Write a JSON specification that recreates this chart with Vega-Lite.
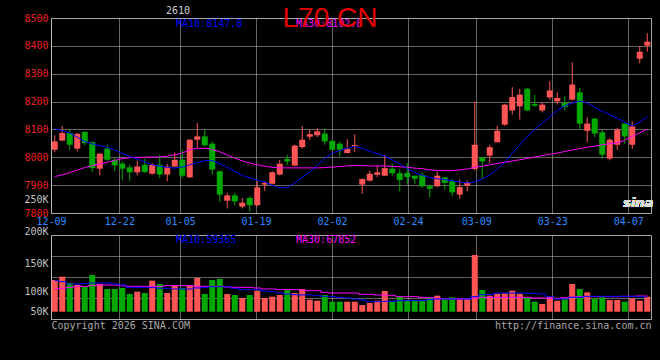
{
  "$schema": "https://vega.github.io/schema/vega-lite/v6.json",
  "background": "#000000",
  "padding": {"left": 23, "top": 4, "right": 10, "bottom": 29},
  "title": {"text": "L70 CN", "font": "Liberation Sans", "fontSize": 28, "fontWeight": "normal", "color": "#e00000", "anchor": "middle", "frame": "group", "dy": 31, "dx": -21},
  "bounds": "flush",
  "spacing": 22,
  "resolve": {"scale": {"x": "independent", "y": "independent"}},
  "config": {
    "font": "DejaVu Sans Mono",
    "view": {"stroke": "#a8a8a8", "strokeWidth": 1},
    "axis": {"labelFont": "DejaVu Sans Mono", "labelFontSize": 10, "titleFont": "DejaVu Sans Mono", "titleFontSize": 10, "titleFontWeight": "normal", "ticks": false, "domain": false, "gridColor": "#c8c8c8", "gridDash": [1, 1], "gridWidth": 1, "labelOverlap": false}
  },
  "datasets": {
    "k": [
      {"d":"2025-12-09","o":8027,"h":8079,"l":8018,"c":8057,"v":119700,"m10":8103,"m30":7931,"vm10":118500,"vm30":103600},
      {"d":"2025-12-10","o":8060,"h":8113,"l":8058,"c":8087,"v":125600,"m10":8096,"m30":7937,"vm10":116700,"vm30":104800},
      {"d":"2025-12-11","o":8087,"h":8099,"l":8027,"c":8045,"v":114300,"m10":8087,"m30":7945,"vm10":112500,"vm30":106500},
      {"d":"2025-12-12","o":8031,"h":8087,"l":8021,"c":8084,"v":110700,"m10":8072,"m30":7954,"vm10":112500,"vm30":108300},
      {"d":"2025-12-15","o":8091,"h":8093,"l":8043,"c":8051,"v":107700,"m10":8057,"m30":7963,"vm10":113100,"vm30":108300},
      {"d":"2025-12-16","o":8054,"h":8057,"l":7947,"c":7961,"v":128600,"m10":8048,"m30":7970,"vm10":114300,"vm30":109500},
      {"d":"2025-12-17","o":7959,"h":8015,"l":7935,"c":8013,"v":112500,"m10":8042,"m30":7976,"vm10":114300,"vm30":110700},
      {"d":"2025-12-18","o":8031,"h":8045,"l":7985,"c":7991,"v":103600,"m10":8036,"m30":7982,"vm10":114300,"vm30":110700},
      {"d":"2025-12-19","o":7991,"h":7997,"l":7950,"c":7971,"v":103600,"m10":8026,"m30":7989,"vm10":112500,"vm30":110700},
      {"d":"2025-12-22","o":7977,"h":7985,"l":7917,"c":7959,"v":105400,"m10":8014,"m30":7995,"vm10":110700,"vm30":109500},
      {"d":"2025-12-23","o":7964,"h":7973,"l":7914,"c":7946,"v":94600,"m10":8003,"m30":7999,"vm10":106500,"vm30":108300},
      {"d":"2025-12-24","o":7946,"h":7988,"l":7935,"c":7967,"v":98800,"m10":7994,"m30":8000,"vm10":106500,"vm30":108300},
      {"d":"2025-12-25","o":7973,"h":7994,"l":7944,"c":7947,"v":96400,"m10":7983,"m30":8000,"vm10":106500,"vm30":108300},
      {"d":"2025-12-26","o":7941,"h":7979,"l":7938,"c":7973,"v":118500,"m10":7973,"m30":8001,"vm10":106000,"vm30":108300},
      {"d":"2025-12-29","o":7973,"h":8009,"l":7926,"c":7938,"v":112500,"m10":7968,"m30":8001,"vm10":104800,"vm30":108300},
      {"d":"2025-12-30","o":7938,"h":7976,"l":7914,"c":7967,"v":96400,"m10":7964,"m30":8004,"vm10":104800,"vm30":109500},
      {"d":"2025-12-31","o":7967,"h":8018,"l":7965,"c":7991,"v":110700,"m10":7961,"m30":8009,"vm10":103600,"vm30":109500},
      {"d":"2026-01-05","o":7991,"h":8027,"l":7925,"c":7934,"v":105400,"m10":7965,"m30":8015,"vm10":103600,"vm30":109500},
      {"d":"2026-01-06","o":7928,"h":8065,"l":7925,"c":8063,"v":109500,"m10":7973,"m30":8027,"vm10":103600,"vm30":109500},
      {"d":"2026-01-07","o":8063,"h":8123,"l":8033,"c":8075,"v":123200,"m10":7981,"m30":8032,"vm10":105400,"vm30":108300},
      {"d":"2026-01-08","o":8075,"h":8099,"l":8040,"c":8043,"v":94600,"m10":7988,"m30":8033,"vm10":106500,"vm30":108300},
      {"d":"2026-01-09","o":8049,"h":8057,"l":7938,"c":7956,"v":119700,"m10":7988,"m30":8028,"vm10":107700,"vm30":108300},
      {"d":"2026-01-12","o":7950,"h":7952,"l":7839,"c":7866,"v":121400,"m10":7978,"m30":8020,"vm10":107700,"vm30":108300},
      {"d":"2026-01-13","o":7844,"h":7872,"l":7816,"c":7863,"v":94600,"m10":7964,"m30":8008,"vm10":107700,"vm30":107100},
      {"d":"2026-01-14","o":7863,"h":7872,"l":7828,"c":7842,"v":92900,"m10":7949,"m30":7997,"vm10":104800,"vm30":106500},
      {"d":"2026-01-15","o":7823,"h":7854,"l":7816,"c":7837,"v":87500,"m10":7935,"m30":7987,"vm10":102400,"vm30":106500},
      {"d":"2026-01-16","o":7854,"h":7860,"l":7806,"c":7828,"v":92900,"m10":7926,"m30":7979,"vm10":102400,"vm30":106500},
      {"d":"2026-01-19","o":7828,"h":7914,"l":7824,"c":7892,"v":100600,"m10":7918,"m30":7973,"vm10":102400,"vm30":105400},
      {"d":"2026-01-20","o":7902,"h":7914,"l":7880,"c":7908,"v":87500,"m10":7911,"m30":7968,"vm10":100000,"vm30":103600},
      {"d":"2026-01-21","o":7905,"h":7950,"l":7902,"c":7946,"v":89900,"m10":7899,"m30":7964,"vm10":98800,"vm30":103600},
      {"d":"2026-01-22","o":7938,"h":7991,"l":7935,"c":7977,"v":92900,"m10":7890,"m30":7962,"vm10":96400,"vm30":102400},
      {"d":"2026-01-23","o":7994,"h":8009,"l":7973,"c":7985,"v":101800,"m10":7892,"m30":7962,"vm10":94600,"vm30":102400},
      {"d":"2026-01-26","o":7970,"h":8045,"l":7968,"c":8042,"v":96400,"m10":7908,"m30":7962,"vm10":93500,"vm30":102400},
      {"d":"2026-01-27","o":8037,"h":8113,"l":8031,"c":8063,"v":103600,"m10":7928,"m30":7962,"vm10":92900,"vm30":101800},
      {"d":"2026-01-28","o":8074,"h":8099,"l":8063,"c":8083,"v":84500,"m10":7947,"m30":7962,"vm10":92900,"vm30":100600},
      {"d":"2026-01-29","o":8079,"h":8105,"l":8072,"c":8093,"v":82700,"m10":7971,"m30":7962,"vm10":91700,"vm30":100600},
      {"d":"2026-01-30","o":8085,"h":8103,"l":8045,"c":8057,"v":92900,"m10":7995,"m30":7963,"vm10":90500,"vm30":97600},
      {"d":"2026-02-02","o":8059,"h":8062,"l":8025,"c":8027,"v":80900,"m10":8015,"m30":7965,"vm10":89900,"vm30":96400},
      {"d":"2026-02-03","o":8049,"h":8057,"l":8003,"c":8027,"v":80900,"m10":8024,"m30":7967,"vm10":88700,"vm30":96400},
      {"d":"2026-02-04","o":8015,"h":8065,"l":8015,"c":8031,"v":80900,"m10":8032,"m30":7969,"vm10":87500,"vm30":96400},
      {"d":"2026-02-05","o":8040,"h":8083,"l":8018,"c":8044,"v":80900,"m10":8039,"m30":7971,"vm10":85700,"vm30":96400},
      {"d":"2026-02-06","o":7902,"h":7925,"l":7869,"c":7922,"v":75000,"m10":8032,"m30":7970,"vm10":83900,"vm30":94100},
      {"d":"2026-02-09","o":7916,"h":7952,"l":7913,"c":7941,"v":78600,"m10":8022,"m30":7969,"vm10":80900,"vm30":94100},
      {"d":"2026-02-10","o":7937,"h":7970,"l":7929,"c":7946,"v":82700,"m10":8013,"m30":7969,"vm10":80900,"vm30":92900},
      {"d":"2026-02-11","o":7934,"h":8009,"l":7934,"c":7961,"v":100000,"m10":8004,"m30":7969,"vm10":81600,"vm30":92900},
      {"d":"2026-02-12","o":7959,"h":7977,"l":7934,"c":7943,"v":80900,"m10":7991,"m30":7967,"vm10":81600,"vm30":91700},
      {"d":"2026-02-13","o":7943,"h":7958,"l":7878,"c":7919,"v":89900,"m10":7977,"m30":7966,"vm10":82700,"vm30":89900},
      {"d":"2026-02-24","o":7943,"h":7979,"l":7902,"c":7929,"v":83900,"m10":7959,"m30":7964,"vm10":82700,"vm30":89900},
      {"d":"2026-02-25","o":7934,"h":7934,"l":7905,"c":7923,"v":83900,"m10":7946,"m30":7961,"vm10":82700,"vm30":89900},
      {"d":"2026-02-26","o":7937,"h":7946,"l":7890,"c":7896,"v":83900,"m10":7935,"m30":7959,"vm10":82700,"vm30":88700},
      {"d":"2026-02-27","o":7896,"h":7902,"l":7857,"c":7887,"v":88700,"m10":7927,"m30":7955,"vm10":84500,"vm30":88100},
      {"d":"2026-03-02","o":7896,"h":7949,"l":7893,"c":7934,"v":91700,"m10":7923,"m30":7953,"vm10":85700,"vm30":86900},
      {"d":"2026-03-03","o":7928,"h":7929,"l":7884,"c":7908,"v":85700,"m10":7920,"m30":7952,"vm10":85700,"vm30":85700},
      {"d":"2026-03-04","o":7914,"h":7922,"l":7860,"c":7874,"v":88700,"m10":7916,"m30":7952,"vm10":85700,"vm30":85700},
      {"d":"2026-03-05","o":7866,"h":7920,"l":7851,"c":7893,"v":87500,"m10":7911,"m30":7955,"vm10":85700,"vm30":85700},
      {"d":"2026-03-06","o":7898,"h":7917,"l":7878,"c":7908,"v":85700,"m10":7908,"m30":7958,"vm10":85700,"vm30":85700},
      {"d":"2026-03-09","o":7958,"h":8200,"l":7953,"c":8045,"v":164300,"m10":7912,"m30":7964,"vm10":89900,"vm30":87500},
      {"d":"2026-03-10","o":7999,"h":8000,"l":7920,"c":7985,"v":101800,"m10":7922,"m30":7968,"vm10":93500,"vm30":88700},
      {"d":"2026-03-11","o":8006,"h":8045,"l":7980,"c":8036,"v":91700,"m10":7936,"m30":7973,"vm10":93500,"vm30":88700},
      {"d":"2026-03-12","o":8054,"h":8113,"l":8054,"c":8095,"v":94600,"m10":7958,"m30":7978,"vm10":96400,"vm30":88700},
      {"d":"2026-03-13","o":8117,"h":8191,"l":8113,"c":8189,"v":95800,"m10":7981,"m30":7982,"vm10":96400,"vm30":88700},
      {"d":"2026-03-16","o":8168,"h":8252,"l":8153,"c":8216,"v":100600,"m10":8015,"m30":7987,"vm10":96400,"vm30":88700},
      {"d":"2026-03-17","o":8183,"h":8246,"l":8135,"c":8225,"v":94600,"m10":8044,"m30":7991,"vm10":96400,"vm30":88700},
      {"d":"2026-03-18","o":8246,"h":8249,"l":8165,"c":8168,"v":88700,"m10":8073,"m30":7996,"vm10":96400,"vm30":88700},
      {"d":"2026-03-19","o":8191,"h":8225,"l":8180,"c":8185,"v":80900,"m10":8099,"m30":8001,"vm10":95800,"vm30":87500},
      {"d":"2026-03-20","o":8168,"h":8195,"l":8161,"c":8189,"v":76800,"m10":8123,"m30":8006,"vm10":94600,"vm30":87500},
      {"d":"2026-03-23","o":8215,"h":8273,"l":8207,"c":8240,"v":89900,"m10":8145,"m30":8011,"vm10":89900,"vm30":86900},
      {"d":"2026-03-24","o":8201,"h":8233,"l":8189,"c":8213,"v":82700,"m10":8168,"m30":8015,"vm10":85700,"vm30":86900},
      {"d":"2026-03-25","o":8195,"h":8219,"l":8168,"c":8180,"v":85700,"m10":8185,"m30":8021,"vm10":85700,"vm30":88100},
      {"d":"2026-03-26","o":8207,"h":8341,"l":8204,"c":8261,"v":112500,"m10":8195,"m30":8026,"vm10":88700,"vm30":89300},
      {"d":"2026-03-27","o":8233,"h":8249,"l":8101,"c":8121,"v":103600,"m10":8202,"m30":8031,"vm10":88700,"vm30":89900},
      {"d":"2026-03-30","o":8095,"h":8143,"l":8054,"c":8121,"v":97600,"m10":8195,"m30":8036,"vm10":90500,"vm30":89900},
      {"d":"2026-03-31","o":8139,"h":8139,"l":8073,"c":8085,"v":86900,"m10":8180,"m30":8040,"vm10":90500,"vm30":89900},
      {"d":"2026-04-01","o":8090,"h":8099,"l":7994,"c":8009,"v":88700,"m10":8165,"m30":8045,"vm10":90500,"vm30":89900},
      {"d":"2026-04-02","o":7995,"h":8069,"l":7989,"c":8063,"v":83900,"m10":8153,"m30":8049,"vm10":90500,"vm30":89900},
      {"d":"2026-04-03","o":8045,"h":8105,"l":8027,"c":8099,"v":83900,"m10":8140,"m30":8052,"vm10":90500,"vm30":89900},
      {"d":"2026-04-07","o":8121,"h":8121,"l":8049,"c":8075,"v":80900,"m10":8126,"m30":8061,"vm10":90500,"vm30":90500},
      {"d":"2026-04-08","o":8045,"h":8129,"l":8030,"c":8111,"v":86900,"m10":8113,"m30":8075,"vm10":90500,"vm30":90500},
      {"d":"2026-04-09","o":8354,"h":8398,"l":8337,"c":8379,"v":82700,"m10":8126,"m30":8088,"vm10":89900,"vm30":91100},
      {"d":"2026-04-10","o":8401,"h":8446,"l":8379,"c":8415,"v":89900,"m10":8146,"m30":8101,"vm10":89300,"vm30":91100}
    ]
  },
  "vconcat": [
    {
      "width": 600,
      "height": 195,
      "title": {"text": "2610", "anchor": "start", "frame": "group", "dx": 115, "offset": -3, "font": "DejaVu Sans Mono", "fontSize": 10, "fontWeight": "normal", "color": "#d0d0d0"},
      "data": {"name": "k"},
      "resolve": {"scale": {"x": "independent"}},
      "layer": [
        {
          "mark": {"type": "point", "opacity": 0},
          "encoding": {
            "x": {"field": "d", "type": "ordinal", "scale": {"type": "point", "padding": 0},
              "axis": {"orient": "bottom", "title": null, "grid": true, "labelAngle": 0, "labelPadding": 3, "labelColor": "#2a8cff", "tickCount": 30,
                "values": ["2025-12-09", "2025-12-22", "2026-01-05", "2026-01-19", "2026-02-02", "2026-02-24", "2026-03-09", "2026-03-23", "2026-04-07"],
                "labelExpr": "slice(datum.label, 5)"}}
          }
        },
        {
          "layer": [
            {
              "mark": {"type": "rule", "strokeWidth": 1},
              "encoding": {
                "x": {"field": "d", "type": "ordinal", "bandPosition": 0.5, "scale": {"type": "band", "paddingInner": 0, "paddingOuter": 0}, "axis": null},
                "y": {"field": "l", "type": "quantitative", "scale": {"domain": [7800, 8500], "zero": false, "nice": false},
                  "axis": {"title": null, "grid": true, "format": "d", "labelPadding": 3, "labelOverlap": false, "labelFlush": false, "tickCount": 30,
                    "values": [7800, 7848, 7900, 8000, 8100, 8200, 8300, 8400, 8500],
                    "labelExpr": "datum.value == 7848 ? '250K' : datum.label",
                    "labelColor": {"condition": {"test": "datum.value == 7848", "value": "#c0c0c0"}, "value": "#e82020"},
                    "gridOpacity": {"condition": {"test": "datum.value == 7848 || datum.value == 7800 || datum.value == 8500", "value": 0}, "value": 1}}},
                "y2": {"field": "h"},
                "color": {"condition": {"test": "datum.c >= datum.o", "value": "#ff5555"}, "value": "#00a800"}
              }
            },
            {
              "mark": {"type": "bar", "width": {"band": 0.8}},
              "encoding": {
                "x": {"field": "d", "type": "ordinal"},
                "y": {"field": "o", "type": "quantitative"},
                "y2": {"field": "c"},
                "color": {"condition": {"test": "datum.c >= datum.o", "value": "#ff5555"}, "value": "#00a800"}
              }
            },
            {
              "mark": {"type": "line", "color": "#ff00ff", "strokeWidth": 1},
              "encoding": {
                "x": {"field": "d", "type": "ordinal", "bandPosition": 0.5},
                "y": {"field": "m30", "type": "quantitative"}
              }
            },
            {
              "mark": {"type": "line", "color": "#0000ff", "strokeWidth": 1},
              "encoding": {
                "x": {"field": "d", "type": "ordinal", "bandPosition": 0.5},
                "y": {"field": "m10", "type": "quantitative"}
              }
            },
            {
              "data": {"values": [{"d": "2025-12-31", "t": "MA10:8147.8", "s": "MA10"}, {"d": "2026-01-26", "t": "MA30:8102.8", "s": "MA30"}]},
              "mark": {"type": "text", "align": "left", "baseline": "top", "dy": 1, "font": "DejaVu Sans Mono", "fontSize": 10},
              "encoding": {
                "x": {"field": "d", "type": "ordinal", "bandPosition": 0.67},
                "y": {"datum": 8500},
                "text": {"field": "t"},
                "color": {"field": "s", "type": "nominal", "scale": {"domain": ["MA10", "MA30"], "range": ["#0000ff", "#ff00ff"]}, "legend": null}
              }
            },
            {
              "mark": {"type": "text", "text": "sina", "font": "DejaVu Sans", "fontSize": 13, "fontStyle": "italic", "fontWeight": "bold", "color": "#dcdcdc"},
              "encoding": {
                "x": {"datum": "2026-04-09", "type": "ordinal", "bandPosition": 0.3},
                "y": {"datum": 7837}
              }
            }
          ]
        }
      ]
    },
    {
      "width": 600,
      "height": 84,
      "data": {"name": "k"},
      "resolve": {"scale": {"x": "independent"}},
      "layer": [
        {
          "mark": {"type": "point", "opacity": 0},
          "encoding": {
            "x": {"field": "d", "type": "ordinal", "scale": {"type": "point", "padding": 0},
              "axis": {"orient": "bottom", "grid": true, "labels": false, "tickCount": 30,
                "values": ["2025-12-09", "2025-12-22", "2026-01-05", "2026-01-19", "2026-02-02", "2026-02-24", "2026-03-09", "2026-03-23", "2026-04-07"],
                "title": "http://finance.sina.com.cn", "titleAnchor": "end", "titleColor": "#a8a8a8", "titlePadding": 1}}
          }
        },
        {
          "resolve": {"axis": {"y": "independent"}},
          "layer": [
            {
              "mark": {"type": "bar", "width": {"band": 0.8}},
              "encoding": {
                "x": {"field": "d", "type": "ordinal", "scale": {"type": "band", "paddingInner": 0, "paddingOuter": 0},
                  "axis": {"orient": "bottom", "labels": false, "grid": false, "title": "Copyright 2026 SINA.COM", "titleAnchor": "start", "titleColor": "#a8a8a8", "titlePadding": 1}},
                "y": {"field": "v", "type": "quantitative", "scale": {"domain": [50000, 200000], "zero": false, "nice": false},
                  "axis": {"orient": "left", "title": null, "grid": false, "labelPadding": 3, "labelOverlap": false, "labelFlush": false, "tickCount": 30,
                    "values": [50000, 100000, 150000, 200000], "labelExpr": "(datum.value / 1000) + 'K'", "labelColor": "#c0c0c0",
                    "labelOffset": {"condition": [{"test": "datum.value == 50000", "value": -8}, {"test": "datum.value == 200000", "value": -4}], "value": 0}}},
                "y2": {"datum": 63000},
                "color": {"condition": {"test": "datum.c >= datum.o", "value": "#ff5555"}, "value": "#00a800"}
              }
            },
            {
              "mark": {"type": "line", "color": "#ff00ff", "strokeWidth": 1, "interpolate": "step"},
              "encoding": {
                "x": {"field": "d", "type": "ordinal", "bandPosition": 0.5},
                "y": {"field": "vm30", "type": "quantitative", "axis": null}
              }
            },
            {
              "mark": {"type": "line", "color": "#0000ff", "strokeWidth": 1, "interpolate": "step"},
              "encoding": {
                "x": {"field": "d", "type": "ordinal", "bandPosition": 0.5},
                "y": {"field": "vm10", "type": "quantitative",
                  "axis": {"orient": "left", "title": null, "grid": true, "labels": false, "tickCount": 30, "values": [87500, 125000, 162500]}}
              }
            },
            {
              "data": {"values": [{"d": "2025-12-31", "t": "MA10:59365", "s": "MA10"}, {"d": "2026-01-26", "t": "MA30:67852", "s": "MA30"}]},
              "mark": {"type": "text", "align": "left", "baseline": "top", "dy": 0, "font": "DejaVu Sans Mono", "fontSize": 10},
              "encoding": {
                "x": {"field": "d", "type": "ordinal", "bandPosition": 0.67},
                "y": {"datum": 200000, "type": "quantitative", "axis": null},
                "text": {"field": "t"},
                "color": {"field": "s", "type": "nominal", "scale": {"domain": ["MA10", "MA30"], "range": ["#0000ff", "#ff00ff"]}, "legend": null}
              }
            }
          ]
        }
      ]
    }
  ]
}
